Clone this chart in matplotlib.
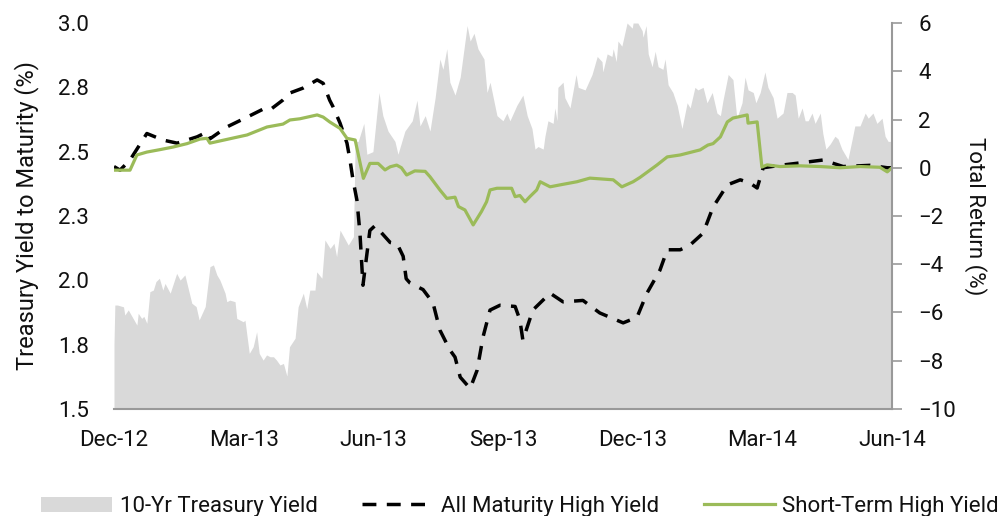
import numpy as np
import matplotlib.pyplot as plt

plt.rcParams['font.family'] = ['Roboto', 'DejaVu Sans']

# x positions in months after Dec-12
tsy_m = [0.00, 0.02, 0.08, 0.22, 0.25, 0.33, 0.53, 0.56, 0.64, 0.69, 0.76, 0.83, 0.91, 0.97,
         1.05, 1.13, 1.18, 1.30, 1.45, 1.53, 1.64, 1.80, 1.90, 1.97, 2.11, 2.22, 2.30, 2.38,
         2.45, 2.57, 2.61, 2.68, 2.80, 2.84, 2.99, 3.03, 3.13, 3.22, 3.30, 3.36, 3.45, 3.53,
         3.61, 3.69, 3.76, 3.84, 3.92, 4.00, 4.06, 4.19, 4.26, 4.38, 4.46, 4.53, 4.65, 4.69,
         4.81, 4.88, 5.00, 5.09, 5.15, 5.23, 5.42, 5.54, 5.58, 5.65, 5.78, 5.85, 5.99, 6.13,
         6.22, 6.34, 6.50, 6.57, 6.73, 6.90, 7.01, 7.08, 7.20, 7.31, 7.43, 7.54, 7.61, 7.70,
         7.77, 7.89, 8.01, 8.17, 8.24, 8.33, 8.42, 8.56, 8.63, 8.70, 8.86, 9.00, 9.09, 9.16,
         9.32, 9.46, 9.56, 9.67, 9.74, 9.81, 9.93, 9.97, 10.04, 10.16, 10.20, 10.25, 10.27,
         10.39, 10.43, 10.55, 10.69, 10.74, 10.90, 11.06, 11.18, 11.29, 11.31, 11.41, 11.52,
         11.55, 11.62, 11.66, 11.75, 11.87, 11.99, 12.01, 12.12, 12.22, 12.24, 12.31, 12.36,
         12.45, 12.52, 12.59, 12.70, 12.75, 12.82, 12.93, 13.03, 13.14, 13.26, 13.33, 13.44,
         13.51, 13.63, 13.72, 13.84, 13.95, 14.03, 14.09, 14.21, 14.32, 14.41, 14.53, 14.60,
         14.67, 14.79, 14.85, 14.95, 15.06, 15.13, 15.25, 15.34, 15.48, 15.57, 15.69, 15.76,
         15.83, 15.92, 15.99, 16.06, 16.15, 16.22, 16.34, 16.40, 16.47, 16.57, 16.68, 16.75,
         16.84, 16.91, 16.98, 17.08, 17.14, 17.26, 17.38, 17.45, 17.56, 17.65, 17.77, 17.84,
         17.91, 18.00]
tsy_yld = [1.755, 1.904, 1.904, 1.897, 1.865, 1.885, 1.826, 1.872, 1.852, 1.860, 1.833, 1.956,
           1.962, 1.995, 2.008, 1.962, 1.988, 1.95, 2.027, 2.001, 2.021, 1.911, 1.898, 1.846,
           1.898, 2.053, 2.06, 2.021, 2.001, 1.95, 1.917, 1.923, 1.917, 1.852, 1.839, 1.845,
           1.716, 1.742, 1.80, 1.716, 1.69, 1.71, 1.703, 1.703, 1.69, 1.671, 1.677, 1.628,
           1.742, 1.775, 1.897, 1.95, 1.89, 1.962, 1.962, 2.033, 2.008, 2.157, 2.124, 2.144,
           2.092, 2.195, 2.137, 2.17, 2.54, 2.54, 2.61, 2.49, 2.50, 2.73, 2.64, 2.58, 2.54,
           2.49, 2.58, 2.62, 2.70, 2.60, 2.64, 2.58, 2.71, 2.86, 2.82, 2.90, 2.77, 2.72, 2.79,
           2.99, 2.93, 2.96, 2.90, 2.86, 2.73, 2.77, 2.64, 2.62, 2.65, 2.62, 2.68, 2.72, 2.64,
           2.59, 2.51, 2.52, 2.51, 2.56, 2.62, 2.61, 2.67, 2.62, 2.75, 2.77, 2.71, 2.67, 2.80,
           2.75, 2.74, 2.80, 2.87, 2.85, 2.81, 2.88, 2.87, 2.90, 2.85, 2.93, 2.91, 3.0, 2.98,
           3.0, 3.0, 2.97, 2.945, 2.99, 2.88, 2.83, 2.89, 2.83, 2.82, 2.86, 2.76, 2.73, 2.68,
           2.59, 2.69, 2.67, 2.75, 2.74, 2.75, 2.69, 2.73, 2.65, 2.64, 2.70, 2.80, 2.78, 2.63,
           2.69, 2.79, 2.74, 2.73, 2.69, 2.73, 2.81, 2.75, 2.71, 2.63, 2.65, 2.73, 2.73, 2.72,
           2.63, 2.67, 2.62, 2.62, 2.65, 2.61, 2.65, 2.57, 2.51, 2.53, 2.56, 2.55, 2.51, 2.49,
           2.47, 2.55, 2.60, 2.60, 2.65, 2.63, 2.65, 2.61, 2.63, 2.56, 2.54, 2.54]

all_m = [0.00, 0.14, 0.37, 0.76, 1.13, 1.46, 1.92, 2.15, 2.22, 2.61, 3.08, 3.45, 3.61, 3.91,
         4.07, 4.37, 4.70, 4.84, 4.99, 5.07, 5.23, 5.39, 5.46, 5.53, 5.62, 5.69, 5.76, 5.92,
         6.04, 6.39, 6.55, 6.69, 6.76, 6.85, 7.15, 7.38, 7.54, 7.77, 7.89, 8.01, 8.24, 8.40,
         8.54, 8.70, 8.93, 9.28, 9.39, 9.46, 9.69, 10.09, 10.39, 10.85, 11.24, 11.78, 12.10,
         12.33, 12.63, 12.80, 13.10, 13.33, 13.63, 13.86, 14.19, 14.49, 14.72, 14.88, 15.02,
         15.41, 15.87, 16.40, 16.87, 17.49, 17.89, 18.00]
all_ret = [0.05, -0.1, 0.32, 1.42, 1.15, 1.02, 1.28, 1.48, 1.2, 1.69, 2.1, 2.43, 2.4, 2.81,
           3.1, 3.3, 3.64, 3.5, 2.8, 2.52, 1.85, 1.02, 0.32, -0.51, -1.34, -2.7, -4.87, -2.6,
           -2.4, -3.1, -3.15, -3.67, -4.6, -4.78, -5.05, -5.6, -6.73, -7.55, -7.85, -8.68, -9.15, -8.4,
           -7.0, -5.9, -5.7, -5.75, -6.3, -7.15, -5.9, -5.2, -5.56, -5.5, -6.02, -6.43, -6.2,
           -5.2, -4.25, -3.4, -3.4, -3.2, -2.71, -1.63, -0.71, -0.5, -0.64, -0.84, 0.0,
           0.1, 0.2, 0.32, 0.05, 0.1, 0.0, 0.0]

st_m = [0.00, 0.37, 0.53, 0.76, 1.06, 1.37, 1.69, 1.99, 2.15, 2.22, 2.75, 3.08, 3.54, 3.91,
        4.07, 4.30, 4.70, 4.84, 4.99, 5.23, 5.39, 5.58, 5.77, 5.92, 6.11, 6.27, 6.39, 6.54,
        6.65, 6.77, 6.96, 7.20, 7.31, 7.54, 7.70, 7.89, 7.97, 8.12, 8.31, 8.50, 8.62, 8.70,
        8.86, 9.08, 9.20, 9.28, 9.39, 9.51, 9.62, 9.78, 9.86, 10.09, 10.32, 10.71, 11.01,
        11.55, 11.75, 12.01, 12.17, 12.56, 12.80, 13.10, 13.56, 13.74, 13.86, 14.03, 14.19,
        14.32, 14.65, 14.67, 14.88, 14.99, 15.11, 15.41, 15.87, 16.34, 16.80, 17.26, 17.72,
        17.89, 18.00]
st_ret = [-0.1, -0.1, 0.53, 0.65, 0.75, 0.86, 1.0, 1.19, 1.22, 1.02, 1.23, 1.36, 1.69, 1.81,
          1.98, 2.03, 2.19, 2.1, 1.9, 1.63, 1.22, 1.15, -0.44, 0.18, 0.18, -0.09, 0.04, 0.11,
          0.0, -0.30, -0.13, -0.15, -0.37, -0.92, -1.27, -1.22, -1.61, -1.75, -2.37, -1.82, -1.41, -0.92,
          -0.85, -0.85, -0.85, -1.20, -1.15, -1.41, -1.20, -0.92, -0.58, -0.79, -0.71, -0.58, -0.43,
          -0.5, -0.79, -0.58, -0.4, 0.11, 0.45, 0.53, 0.74, 0.94, 1.0, 1.28, 1.9,
          2.06, 2.19, 1.85, 1.9, 0.03, 0.12, 0.05, 0.08, 0.05, 0.0, 0.05, 0.02,
          -0.17, 0.0]

tick_m = [0, 3, 6, 9, 12, 15, 18]
tick_labels = ['Dec-12', 'Mar-13', 'Jun-13', 'Sep-13', 'Dec-13', 'Mar-14', 'Jun-14']
left_ticks = [1.5, 1.75, 2.0, 2.25, 2.5, 2.75, 3.0]
left_labels = ['1.5', '1.8', '2.0', '2.3', '2.5', '2.8', '3.0']
right_ticks = [-10, -8, -6, -4, -2, 0, 2, 4, 6]

fig = plt.figure(figsize=(10, 5.16), dpi=100)
ax = fig.add_axes([0.114, 0.2074, 0.778, 0.748])
ax.fill_between(tsy_m, tsy_yld, 1.5, color='#d9d9d9', lw=0, label='10-Yr Treasury Yield')
ax.set_xlim(0, 18)
ax.set_ylim(1.5, 3.0)
ax.set_yticks(left_ticks)
ax.set_yticklabels(left_labels)
ax.set_xticks(tick_m)
ax.set_xticklabels(tick_labels)
ax.tick_params(axis='both', length=0, labelsize=16, labelcolor='#111111')
ax.tick_params(axis='y', pad=18)
ax.tick_params(axis='x', pad=15)
for s in ['top', 'left', 'right']:
    ax.spines[s].set_visible(False)
ax.spines['bottom'].set_color('#999999')
ax.spines['bottom'].set_linewidth(1.5)
ax.set_ylabel('Treasury Yield to Maturity (%)', fontsize=17, labelpad=14, color='#111111')

ax2 = ax.twinx()
ax2.plot(all_m, all_ret, color='black', lw=2.5, ls=(0, (4, 3)), label='All Maturity High Yield')
ax2.plot(st_m, st_ret, color='#9bbb59', lw=2.3, label='Short-Term High Yield')
ax2.set_ylim(-10, 6)
ax2.set_yticks(right_ticks)
ax2.tick_params(axis='y', length=7, width=1.2, color='#999999', labelsize=16, pad=12,
                labelcolor='#111111')
for s in ['top', 'left', 'bottom']:
    ax2.spines[s].set_visible(False)
ax2.spines['right'].set_color('#999999')
ax2.spines['right'].set_linewidth(1.5)
ax2.set_ylabel('Total Return (%)', fontsize=16, rotation=270, labelpad=22, color='#111111')

h1, l1 = ax.get_legend_handles_labels()
h2, l2 = ax2.get_legend_handles_labels()
fig.legend(h1 + h2, l1 + l2, loc='center', bbox_to_anchor=(0.52, 0.018), ncol=3,
           frameon=False, fontsize=16, handlelength=3.2, columnspacing=2.0, handletextpad=0.35,
           labelcolor='#111111')

fig.savefig('out.png', dpi=100)
